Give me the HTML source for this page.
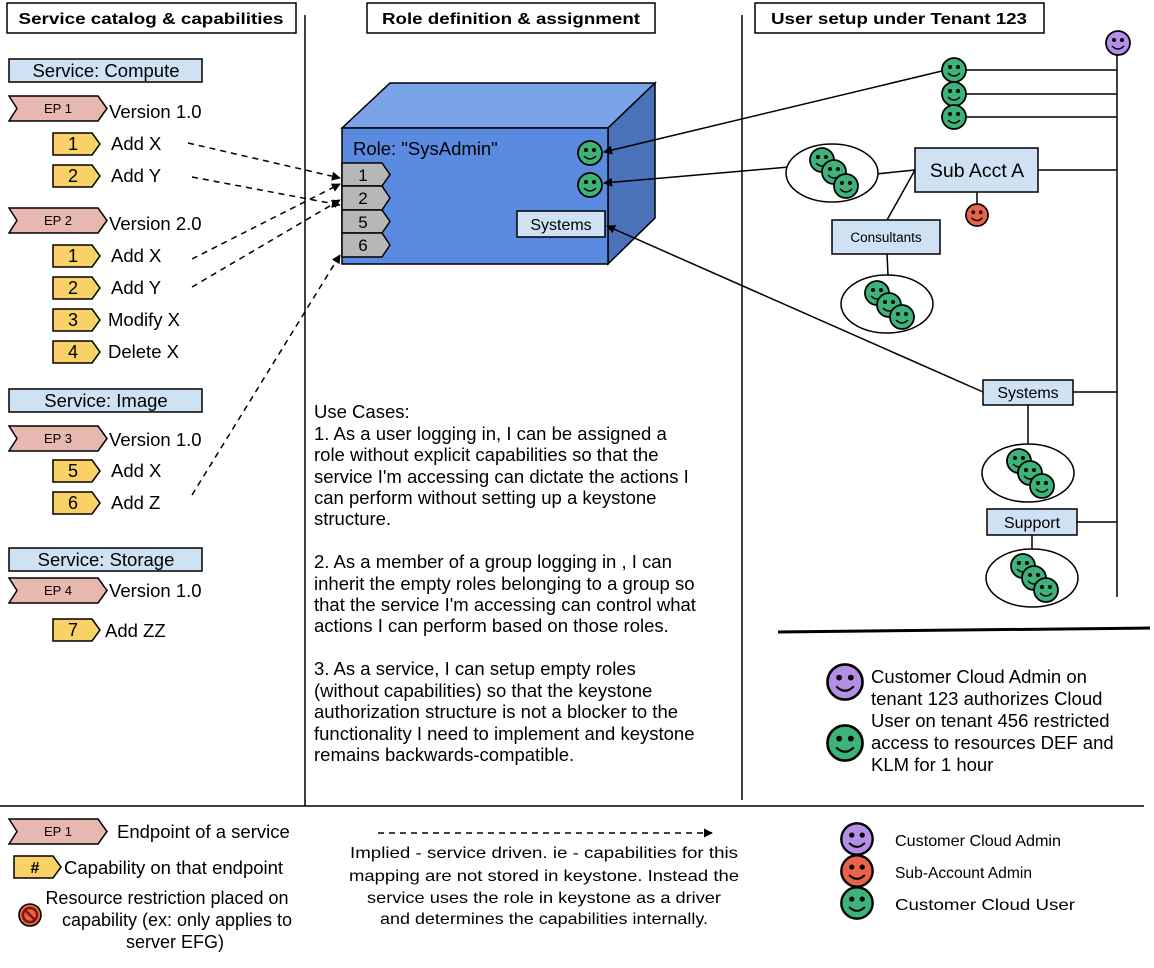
<!DOCTYPE html>
<html><head><meta charset="utf-8"><style>
html,body{margin:0;padding:0;background:#fff}
svg{display:block}
text{font-family:"Liberation Sans",sans-serif;fill:#000}
</style></head><body>
<svg width="1154" height="968" viewBox="0 0 1154 968" xmlns="http://www.w3.org/2000/svg">
<defs>
<symbol id="sm" viewBox="-13 -13 26 26" overflow="visible">
<circle r="12" stroke="#000" stroke-width="1.8"/>
<circle cx="-4" cy="-3" r="2" fill="#000"/>
<circle cx="4" cy="-3" r="2" fill="#000"/>
<path d="M-6 3 Q0 9 6 3" fill="none" stroke="#000" stroke-width="1.5"/>
</symbol>
<marker id="ah" viewBox="0 0 10 10" refX="9" refY="5" markerWidth="9" markerHeight="9" orient="auto" markerUnits="userSpaceOnUse"><path d="M0 0L10 5L0 10z" fill="#000"/></marker>
</defs>

<g stroke="#000" stroke-width="1.5" fill="#fff">
<rect x="7" y="3" width="289" height="30"/>
<rect x="367" y="3" width="288" height="30"/>
<rect x="755" y="3" width="289" height="30"/>
</g>
<g font-weight="bold" font-size="16" text-anchor="middle">
<text x="151" y="24" textLength="265" lengthAdjust="spacingAndGlyphs">Service catalog &amp; capabilities</text>
<text x="511" y="24" textLength="258" lengthAdjust="spacingAndGlyphs">Role definition &amp; assignment</text>
<text x="899" y="24" textLength="256" lengthAdjust="spacingAndGlyphs">User setup under Tenant 123</text>
</g>

<g stroke="#000" stroke-width="1.5">
<line x1="305" y1="15" x2="305" y2="806"/>
<line x1="742" y1="15" x2="742" y2="800"/>
<line x1="0" y1="806" x2="1144" y2="806"/>
</g>
<line x1="778" y1="632" x2="1150" y2="628" stroke="#000" stroke-width="3"/>

<g stroke="#000" stroke-width="1.5" fill="#cfe2f3">
<rect x="9" y="59" width="193" height="23"/>
<rect x="9" y="389" width="193" height="23"/>
<rect x="9" y="548" width="193" height="23"/>
</g>
<g font-size="18.5" text-anchor="middle">
<text x="106" y="77">Service: Compute</text>
<text x="106" y="407">Service: Image</text>
<text x="106" y="566">Service: Storage</text>
</g>

<g stroke="#000" stroke-width="1.5" fill="#e6b8af">
<path d="M9 96H98L107 108.5L98 121H9L17 108.5Z"/>
<path d="M9 208H98L107 220.5L98 233H9L17 220.5Z"/>
<path d="M9 426H98L107 438.5L98 451H9L17 438.5Z"/>
<path d="M9 578H98L107 590.5L98 603H9L17 590.5Z"/>
<path d="M9 819H98L107 831.5L98 844H9L17 831.5Z"/>
</g>
<g font-size="13" text-anchor="middle">
<text x="58" y="113">EP 1</text>
<text x="58" y="225">EP 2</text>
<text x="58" y="443">EP 3</text>
<text x="58" y="595">EP 4</text>
<text x="58" y="836">EP 1</text>
</g>
<g font-size="18.5">
<text x="109" y="118">Version 1.0</text>
<text x="109" y="230">Version 2.0</text>
<text x="109" y="446">Version 1.0</text>
<text x="109" y="597">Version 1.0</text>
</g>

<g stroke="#000" stroke-width="1.5" fill="#f9d166">
<path d="M53 133H92L100 144L92 155H53Z"/>
<path d="M53 165H92L100 176L92 187H53Z"/>
<path d="M53 245H92L100 256L92 267H53Z"/>
<path d="M53 277H92L100 288L92 299H53Z"/>
<path d="M53 309H92L100 320L92 331H53Z"/>
<path d="M53 341H92L100 352L92 363H53Z"/>
<path d="M53 460H92L100 471L92 482H53Z"/>
<path d="M53 492H92L100 503L92 514H53Z"/>
<path d="M53 619H92L100 630L92 641H53Z"/>
<path d="M14 856H53L61 867L53 878H14Z"/>
</g>
<g font-size="18" text-anchor="middle">
<text x="73" y="150">1</text>
<text x="73" y="182">2</text>
<text x="73" y="262">1</text>
<text x="73" y="294">2</text>
<text x="73" y="326">3</text>
<text x="73" y="358">4</text>
<text x="73" y="477">5</text>
<text x="73" y="509">6</text>
<text x="73" y="636">7</text>
<text x="35" y="873" font-weight="bold" font-size="16">#</text>
</g>
<g font-size="18.5">
<text x="111" y="150">Add X</text>
<text x="111" y="182">Add Y</text>
<text x="111" y="262">Add X</text>
<text x="111" y="294">Add Y</text>
<text x="108" y="326">Modify X</text>
<text x="108" y="358">Delete X</text>
<text x="111" y="477">Add X</text>
<text x="111" y="509">Add Z</text>
<text x="105" y="637">Add ZZ</text>
</g>

<g stroke="#000" stroke-width="1.5" stroke-dasharray="6,5" fill="none" marker-end="url(#ah)">
<line x1="188" y1="143" x2="340" y2="178"/>
<line x1="192" y1="177" x2="340" y2="205"/>
<line x1="192" y1="259" x2="340" y2="184"/>
<line x1="192" y1="287" x2="340" y2="200"/>
<line x1="192" y1="495" x2="340" y2="255"/>
<line x1="378" y1="833" x2="712" y2="833"/>
</g>

<path d="M342 128L390 83H655L608 128Z" fill="#7ba3e8" stroke="#000" stroke-width="1.5"/>
<path d="M608 128L655 83V218L608 264Z" fill="#4a72b8" stroke="#000" stroke-width="1.5"/>
<rect x="342" y="128" width="266" height="136" fill="#5b8be0" stroke="#000" stroke-width="1.5"/>
<text x="353" y="155" font-size="18.5">Role: "SysAdmin"</text>
<g stroke="#000" stroke-width="1.5" fill="#b7b7b7">
<path d="M342 163H382L390 174.5L382 186H342Z"/>
<path d="M342 186H382L390 198L382 210H342Z"/>
<path d="M342 210H382L390 221.5L382 233H342Z"/>
<path d="M342 233H382L390 245L382 257H342Z"/>
</g>
<g font-size="17" text-anchor="middle">
<text x="363" y="181">1</text>
<text x="363" y="204">2</text>
<text x="363" y="228">5</text>
<text x="363" y="251">6</text>
</g>
<use href="#sm" x="577" y="140" width="26" height="26" fill="#3db37a"/>
<use href="#sm" x="577" y="172" width="26" height="26" fill="#3db37a"/>
<rect x="517" y="211" width="88" height="26" fill="#cfe2f3" stroke="#000" stroke-width="1.5"/>
<text x="561" y="230" font-size="16" text-anchor="middle">Systems</text>

<g stroke="#000" stroke-width="1.5" fill="none">
<line x1="1117" y1="55" x2="1117" y2="597"/>
<line x1="954" y1="70" x2="1117" y2="70"/>
<line x1="954" y1="94" x2="1117" y2="94"/>
<line x1="954" y1="117" x2="1117" y2="117"/>
<line x1="1038" y1="170" x2="1117" y2="170"/>
<line x1="977" y1="192" x2="977" y2="205"/>
<line x1="876" y1="174" x2="915" y2="170"/>
<line x1="915" y1="170" x2="887" y2="220"/>
<line x1="887" y1="254" x2="888" y2="275"/>
<line x1="1073" y1="392" x2="1117" y2="392"/>
<line x1="1028" y1="405" x2="1028" y2="445"/>
<line x1="1077" y1="522" x2="1117" y2="522"/>
<line x1="1032" y1="535" x2="1032" y2="550"/>
</g>
<g stroke="#000" stroke-width="1.5" marker-end="url(#ah)">
<line x1="942" y1="71" x2="604" y2="152"/>
<line x1="812" y1="165" x2="604" y2="183"/>
<line x1="983" y1="392" x2="607" y2="226"/>
</g>
<g stroke="#000" stroke-width="1.5" fill="#fff">
<ellipse cx="832" cy="173" rx="46" ry="29"/>
<ellipse cx="887" cy="304" rx="46" ry="29"/>
<ellipse cx="1028" cy="473" rx="46" ry="29"/>
<ellipse cx="1032" cy="578" rx="46" ry="29"/>
</g>
<g fill="#cfe2f3" stroke="#000" stroke-width="1.5">
<rect x="915" y="148" width="123" height="44"/>
<rect x="832" y="220" width="108" height="34"/>
<rect x="983" y="380" width="90" height="25"/>
<rect x="987" y="509" width="90" height="26"/>
</g>
<text x="977" y="177" font-size="19.5" text-anchor="middle">Sub Acct A</text>
<text x="886" y="242" font-size="13.5" text-anchor="middle">Consultants</text>
<text x="1028" y="398" font-size="16" text-anchor="middle">Systems</text>
<text x="1032" y="528" font-size="16" text-anchor="middle">Support</text>

<g fill="#3db37a">
<use href="#sm" x="941" y="57" width="26" height="26"/>
<use href="#sm" x="941" y="81" width="26" height="26"/>
<use href="#sm" x="941" y="104" width="26" height="26"/>
<use href="#sm" x="809" y="147" width="26" height="26"/>
<use href="#sm" x="821" y="159" width="26" height="26"/>
<use href="#sm" x="833" y="173" width="26" height="26"/>
<use href="#sm" x="864" y="280" width="26" height="26"/>
<use href="#sm" x="876" y="292" width="26" height="26"/>
<use href="#sm" x="889" y="304" width="26" height="26"/>
<use href="#sm" x="1006" y="448" width="26" height="26"/>
<use href="#sm" x="1017" y="460" width="26" height="26"/>
<use href="#sm" x="1029" y="473" width="26" height="26"/>
<use href="#sm" x="1010" y="553" width="26" height="26"/>
<use href="#sm" x="1021" y="565" width="26" height="26"/>
<use href="#sm" x="1033" y="577" width="26" height="26"/>
</g>
<use href="#sm" x="1105" y="30" width="26" height="26" fill="#b48fe6"/>
<use href="#sm" x="962" y="203" width="30" height="24" fill="#e8634a"/>

<g font-size="18.5">
<text x="314" y="418">Use Cases:</text>
<text x="314" y="440">1. As a user logging in, I can be assigned a</text>
<text x="314" y="461">role without explicit capabilities so that the</text>
<text x="314" y="483">service I'm accessing can dictate the actions I</text>
<text x="314" y="504">can perform without setting up a keystone</text>
<text x="314" y="525">structure.</text>
<text x="314" y="568">2. As a member of a group logging in , I can</text>
<text x="314" y="590">inherit the empty roles belonging to a group so</text>
<text x="314" y="611">that the service I'm accessing can control what</text>
<text x="314" y="632">actions I can perform based on those roles.</text>
<text x="314" y="675">3. As a service, I can setup empty roles</text>
<text x="314" y="697">(without capabilities) so that the keystone</text>
<text x="314" y="718">authorization structure is not a blocker to the</text>
<text x="314" y="740">functionality I need to implement and keystone</text>
<text x="314" y="761">remains backwards-compatible.</text>
</g>

<use href="#sm" x="826" y="663" width="38" height="38" fill="#b48fe6"/>
<use href="#sm" x="826" y="724" width="38" height="38" fill="#3db37a"/>
<g font-size="18.5">
<text x="871" y="683">Customer Cloud Admin on</text>
<text x="871" y="705">tenant 123 authorizes Cloud</text>
<text x="871" y="727">User on tenant 456 restricted</text>
<text x="871" y="749">access to resources DEF and</text>
<text x="871" y="771">KLM for 1 hour</text>
</g>

<g font-size="18.5">
<text x="117" y="838">Endpoint of a service</text>
<text x="64" y="874">Capability on that endpoint</text>
</g>
<circle cx="30" cy="915" r="11" fill="#e8634a" stroke="#000" stroke-width="1.6"/>
<circle cx="30" cy="915" r="7" fill="none" stroke="#7a1a0a" stroke-width="2.5"/>
<line x1="25" y1="910" x2="35" y2="920" stroke="#7a1a0a" stroke-width="2.5"/>
<g font-size="18" text-anchor="middle">
<text x="167" y="904">Resource restriction placed on</text>
<text x="177" y="926">capability (ex: only applies to</text>
<text x="175" y="948">server EFG)</text>
</g>
<g font-size="16" text-anchor="middle">
<text x="544" y="858" textLength="388" lengthAdjust="spacingAndGlyphs">Implied - service driven. ie - capabilities for this</text>
<text x="544" y="881" textLength="390" lengthAdjust="spacingAndGlyphs">mapping are not stored in keystone. Instead the</text>
<text x="544" y="903" textLength="354" lengthAdjust="spacingAndGlyphs">service uses the role in keystone as a driver</text>
<text x="544" y="924" textLength="328" lengthAdjust="spacingAndGlyphs">and determines the capabilities internally.</text>
</g>
<use href="#sm" x="840" y="822" width="34" height="34" fill="#b48fe6"/>
<use href="#sm" x="840" y="854" width="34" height="34" fill="#e8634a"/>
<use href="#sm" x="840" y="886" width="34" height="34" fill="#3db37a"/>
<g font-size="16">
<text x="895" y="846" textLength="166" lengthAdjust="spacingAndGlyphs">Customer Cloud Admin</text>
<text x="895" y="878" textLength="137" lengthAdjust="spacingAndGlyphs">Sub-Account Admin</text>
<text x="895" y="910" textLength="180" lengthAdjust="spacingAndGlyphs">Customer Cloud User</text>
</g>
</svg>
</body></html>
